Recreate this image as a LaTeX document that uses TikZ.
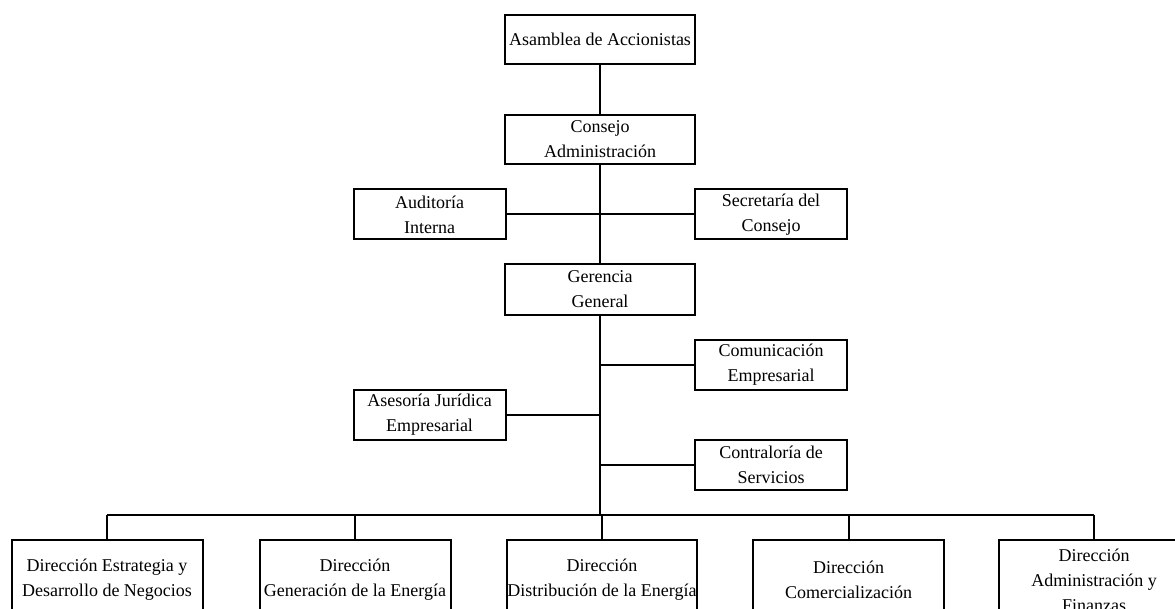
\documentclass[tikz,border=0pt]{standalone}
\usepackage{fontspec}
\setmainfont{Liberation Serif}
\usepackage{tikz}
\usetikzlibrary{positioning}

\begin{document}
\begin{tikzpicture}
		[x=1pt,y=-1pt,
		unit/.style={draw,line width=2pt,inner sep=0pt,align=center,font=\fontsize{18}{25}\selectfont},
		head/.style={unit,minimum width=190pt,minimum height=49pt},
		staff/.style={unit,minimum width=152pt,minimum height=50pt},
		area/.style={unit,minimum width=191pt,minimum height=80pt},
		link/.style={line width=2pt}]
		\useasboundingbox (0,0) rectangle (1175,609);
		\node[head] (asamblea) at (600,39.5) {Asamblea de Accionistas};
		\node[head] (consejo) at (600,139.5) {Consejo\\Administración};
		\node[staff] (auditoria) at (429.5,214.5) {Auditoría\\Interna};
		\node[staff] (secretaria) at (771,214.5) {Secretaría del\\Consejo};
		\node[head,minimum height=51pt] (gerencia) at (600,289.5) {Gerencia\\General};
		\node[staff] (comunicacion) at (771,365) {Comunicación\\Empresarial};
		\node[staff] (asesoria) at (429.5,415) {Asesoría Jurídica\\Empresarial};
		\node[staff] (contraloria) at (771,465) {Contraloría de\\Servicios};
		\node[area] (estrategia) at (107,580) {Dirección Estrategia y\\Desarrollo de Negocios};
		\node[area] (generacion) at (355,580) {Dirección\\Generación de la Energía};
		\node[area,minimum width=188pt] (distribucion) at (602,580) {Dirección\\Distribución de la Energía};
		\node[area] (comercial) at (848.5,580) {Dirección\\Comercialización};
		\node[area] (finanzas) at (1094,580) {Dirección\\Administración y\\Finanzas};
		\coordinate (bus) at (600,514.5);
		\draw[link] (asamblea) -- (consejo);
		\draw[link] (consejo) -- (gerencia);
		\draw[link] (auditoria) -- (secretaria);
		\draw[link] (gerencia) -- (bus);
		\draw[link] (comunicacion) -- (comunicacion -| gerencia);
		\draw[link] (asesoria) -- (asesoria -| gerencia);
		\draw[link] (contraloria) -- (contraloria -| gerencia);
		\draw[link] (estrategia |- bus) -- (finanzas |- bus);
		\draw[link] (estrategia) -- (estrategia |- bus);
		\draw[link] (generacion) -- (generacion |- bus);
		\draw[link] (distribucion) -- (distribucion |- bus);
		\draw[link] (comercial) -- (comercial |- bus);
		\draw[link] (finanzas) -- (finanzas |- bus);
		\end{tikzpicture}
\end{document}
